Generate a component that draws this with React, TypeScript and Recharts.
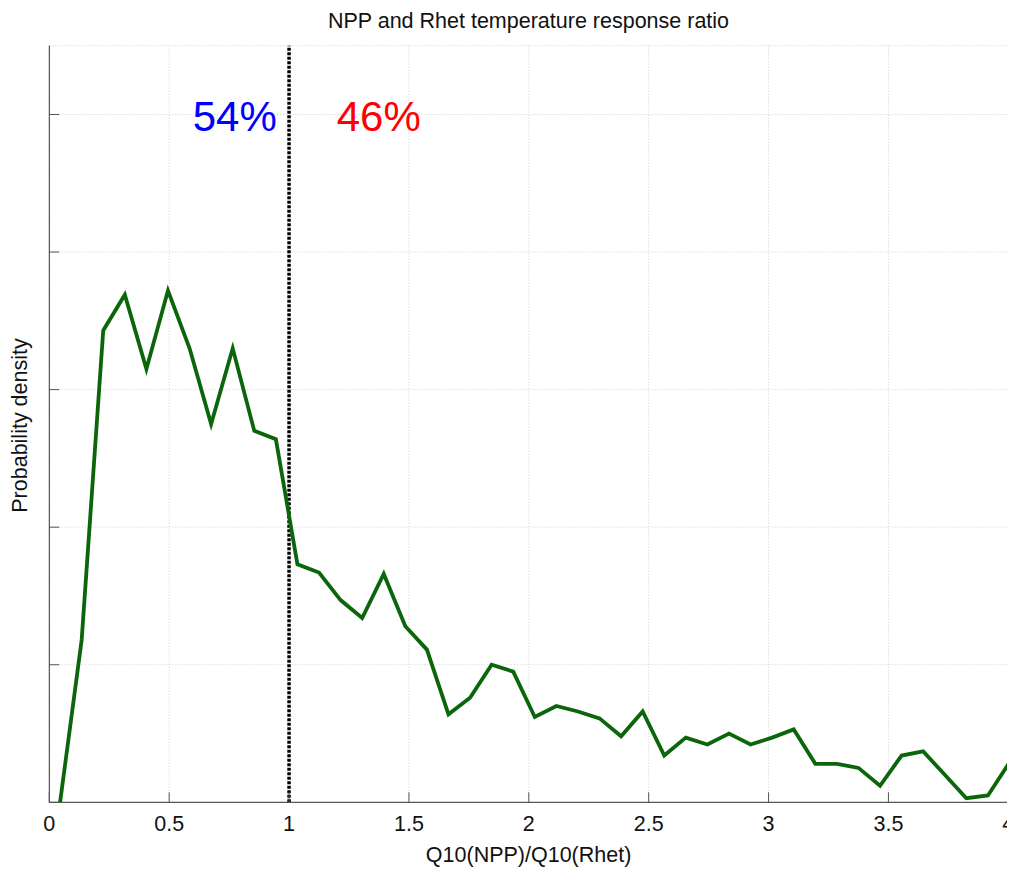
import React from 'react';
import { LineChart, Line, XAxis, YAxis, CartesianGrid, ReferenceLine, ReferenceDot } from 'recharts';

const ratioValues = [
  0.045, 0.135, 0.225, 0.315, 0.405, 0.495, 0.585, 0.675, 0.765, 0.855,
  0.945, 1.035, 1.125, 1.215, 1.305, 1.395, 1.485, 1.575, 1.665, 1.755,
  1.845, 1.935, 2.025, 2.115, 2.205, 2.295, 2.385, 2.475, 2.565, 2.655,
  2.745, 2.835, 2.925, 3.015, 3.105, 3.195, 3.285, 3.375, 3.465, 3.555,
  3.645, 3.735, 3.825, 3.915, 4.005,
];

const densityValues = [
  0.0, 1.18, 3.43, 3.69, 3.15, 3.72, 3.3, 2.75, 3.3, 2.7,
  2.64, 1.73, 1.67, 1.47, 1.34, 1.66, 1.28, 1.11, 0.64, 0.76,
  1.0, 0.95, 0.62, 0.7, 0.66, 0.61, 0.48, 0.66, 0.34, 0.47,
  0.42, 0.5, 0.42, 0.47, 0.53, 0.28, 0.28, 0.25, 0.12, 0.34,
  0.37, 0.2, 0.03, 0.05, 0.29,
];

const xTicks = [0, 0.5, 1, 1.5, 2, 2.5, 3, 3.5, 4];
const xTickLabels = ['0', '0.5', '1', '1.5', '2', '2.5', '3', '3.5', '4'];
const yTicks = [0, 1, 2, 3, 4, 5];

const title = 'NPP and Rhet temperature response ratio';
const xLabel = 'Q10(NPP)/Q10(Rhet)';
const yLabel = 'Probability density';
const leftShare = '54%';
const rightShare = '46%';

const data = ratioValues.map((x, i) => ({ x, density: densityValues[i] }));

const FONT = '"Liberation Sans", Arial, Helvetica, sans-serif';

const XTick = (props: any) => {
  const { x, y, payload } = props;
  const idx = xTicks.indexOf(payload.value);
  return (
    <g>
      <line x1={x} x2={x} y1={y} y2={y - 10} stroke="#555" strokeWidth={1} />
      <text x={x} y={y + 29} textAnchor="middle" fontSize={21.5} fontFamily={FONT} fill="#111">
        {idx >= 0 ? xTickLabels[idx] : String(payload.value)}
      </text>
    </g>
  );
};

const YTick = (props: any) => {
  const { x, y } = props;
  return <line x1={x} x2={x + 10} y1={y} y2={y} stroke="#555" strokeWidth={1} />;
};

export default function App() {
  return (
    <div style={{ position: 'relative', width: 1007, height: 862 }}>
      <style>{`html, body { overflow: hidden; }`}</style>
      <div
        style={{
          position: 'absolute',
          left: 220.5,
          width: 600,
          top: 2.5,
          textAlign: 'center',
          fontFamily: FONT,
          fontSize: 21.5,
          lineHeight: '21px',
          color: '#111',
          whiteSpace: 'nowrap',
        }}
      >
        {title}
      </div>
      <LineChart
        width={1007}
        height={862}
        data={data}
        margin={{ top: 37.7, right: 6.7, left: 0.3, bottom: 7.7 }}
      >
        <CartesianGrid stroke="#cfcfcf" strokeDasharray="1 2" />
        <XAxis
          type="number"
          dataKey="x"
          domain={[0, 4]}
          ticks={xTicks}
          interval={0}
          allowDataOverflow
          height={60}
          tickSize={0}
          tickMargin={0}
          tickLine={false}
          axisLine={{ stroke: '#333', strokeWidth: 1 }}
          tick={<XTick />}
          label={{
            content: () => (
              <text x={520.6} y={853.7} textAnchor="middle" fontSize={21.5} fontFamily={FONT} fill="#111">
                {xLabel}
              </text>
            ),
          }}
        />
        <YAxis
          type="number"
          domain={[0, 5.5]}
          ticks={yTicks}
          interval={0}
          allowDataOverflow
          width={41}
          tickSize={0}
          tickMargin={0}
          tickLine={false}
          axisLine={{ stroke: '#333', strokeWidth: 1 }}
          tick={<YTick />}
          label={{
            content: () => (
              <text
                x={19.3}
                y={417.5}
                transform="rotate(-90, 19.3, 417.5)"
                textAnchor="middle"
                fontSize={21.5}
                fontFamily={FONT}
                fill="#111"
              >
                {yLabel}
              </text>
            ),
          }}
        />
        <ReferenceLine x={1} stroke="#000" strokeWidth={3.5} strokeDasharray="3 1.5" />
        <Line
          type="linear"
          dataKey="density"
          stroke="#0b660b"
          strokeWidth={3.8}
          dot={false}
          activeDot={false}
          isAnimationActive={false}
        />
        <ReferenceDot
          x={0.949}
          y={4.882}
          r={0}
          fill="none"
          stroke="none"
          label={{
            content: (p: any) => (
              <text
                x={p.viewBox.x + p.viewBox.width / 2}
                y={p.viewBox.y + p.viewBox.height / 2}
                textAnchor="end"
                fontSize={42}
                fontFamily={FONT}
                fill="#0000ff"
              >
                {leftShare}
              </text>
            ),
          }}
        />
        <ReferenceDot
          x={1.199}
          y={4.882}
          r={0}
          fill="none"
          stroke="none"
          label={{
            content: (p: any) => (
              <text
                x={p.viewBox.x + p.viewBox.width / 2}
                y={p.viewBox.y + p.viewBox.height / 2}
                textAnchor="start"
                fontSize={42}
                fontFamily={FONT}
                fill="#ff0000"
              >
                {rightShare}
              </text>
            ),
          }}
        />
      </LineChart>
    </div>
  );
}
